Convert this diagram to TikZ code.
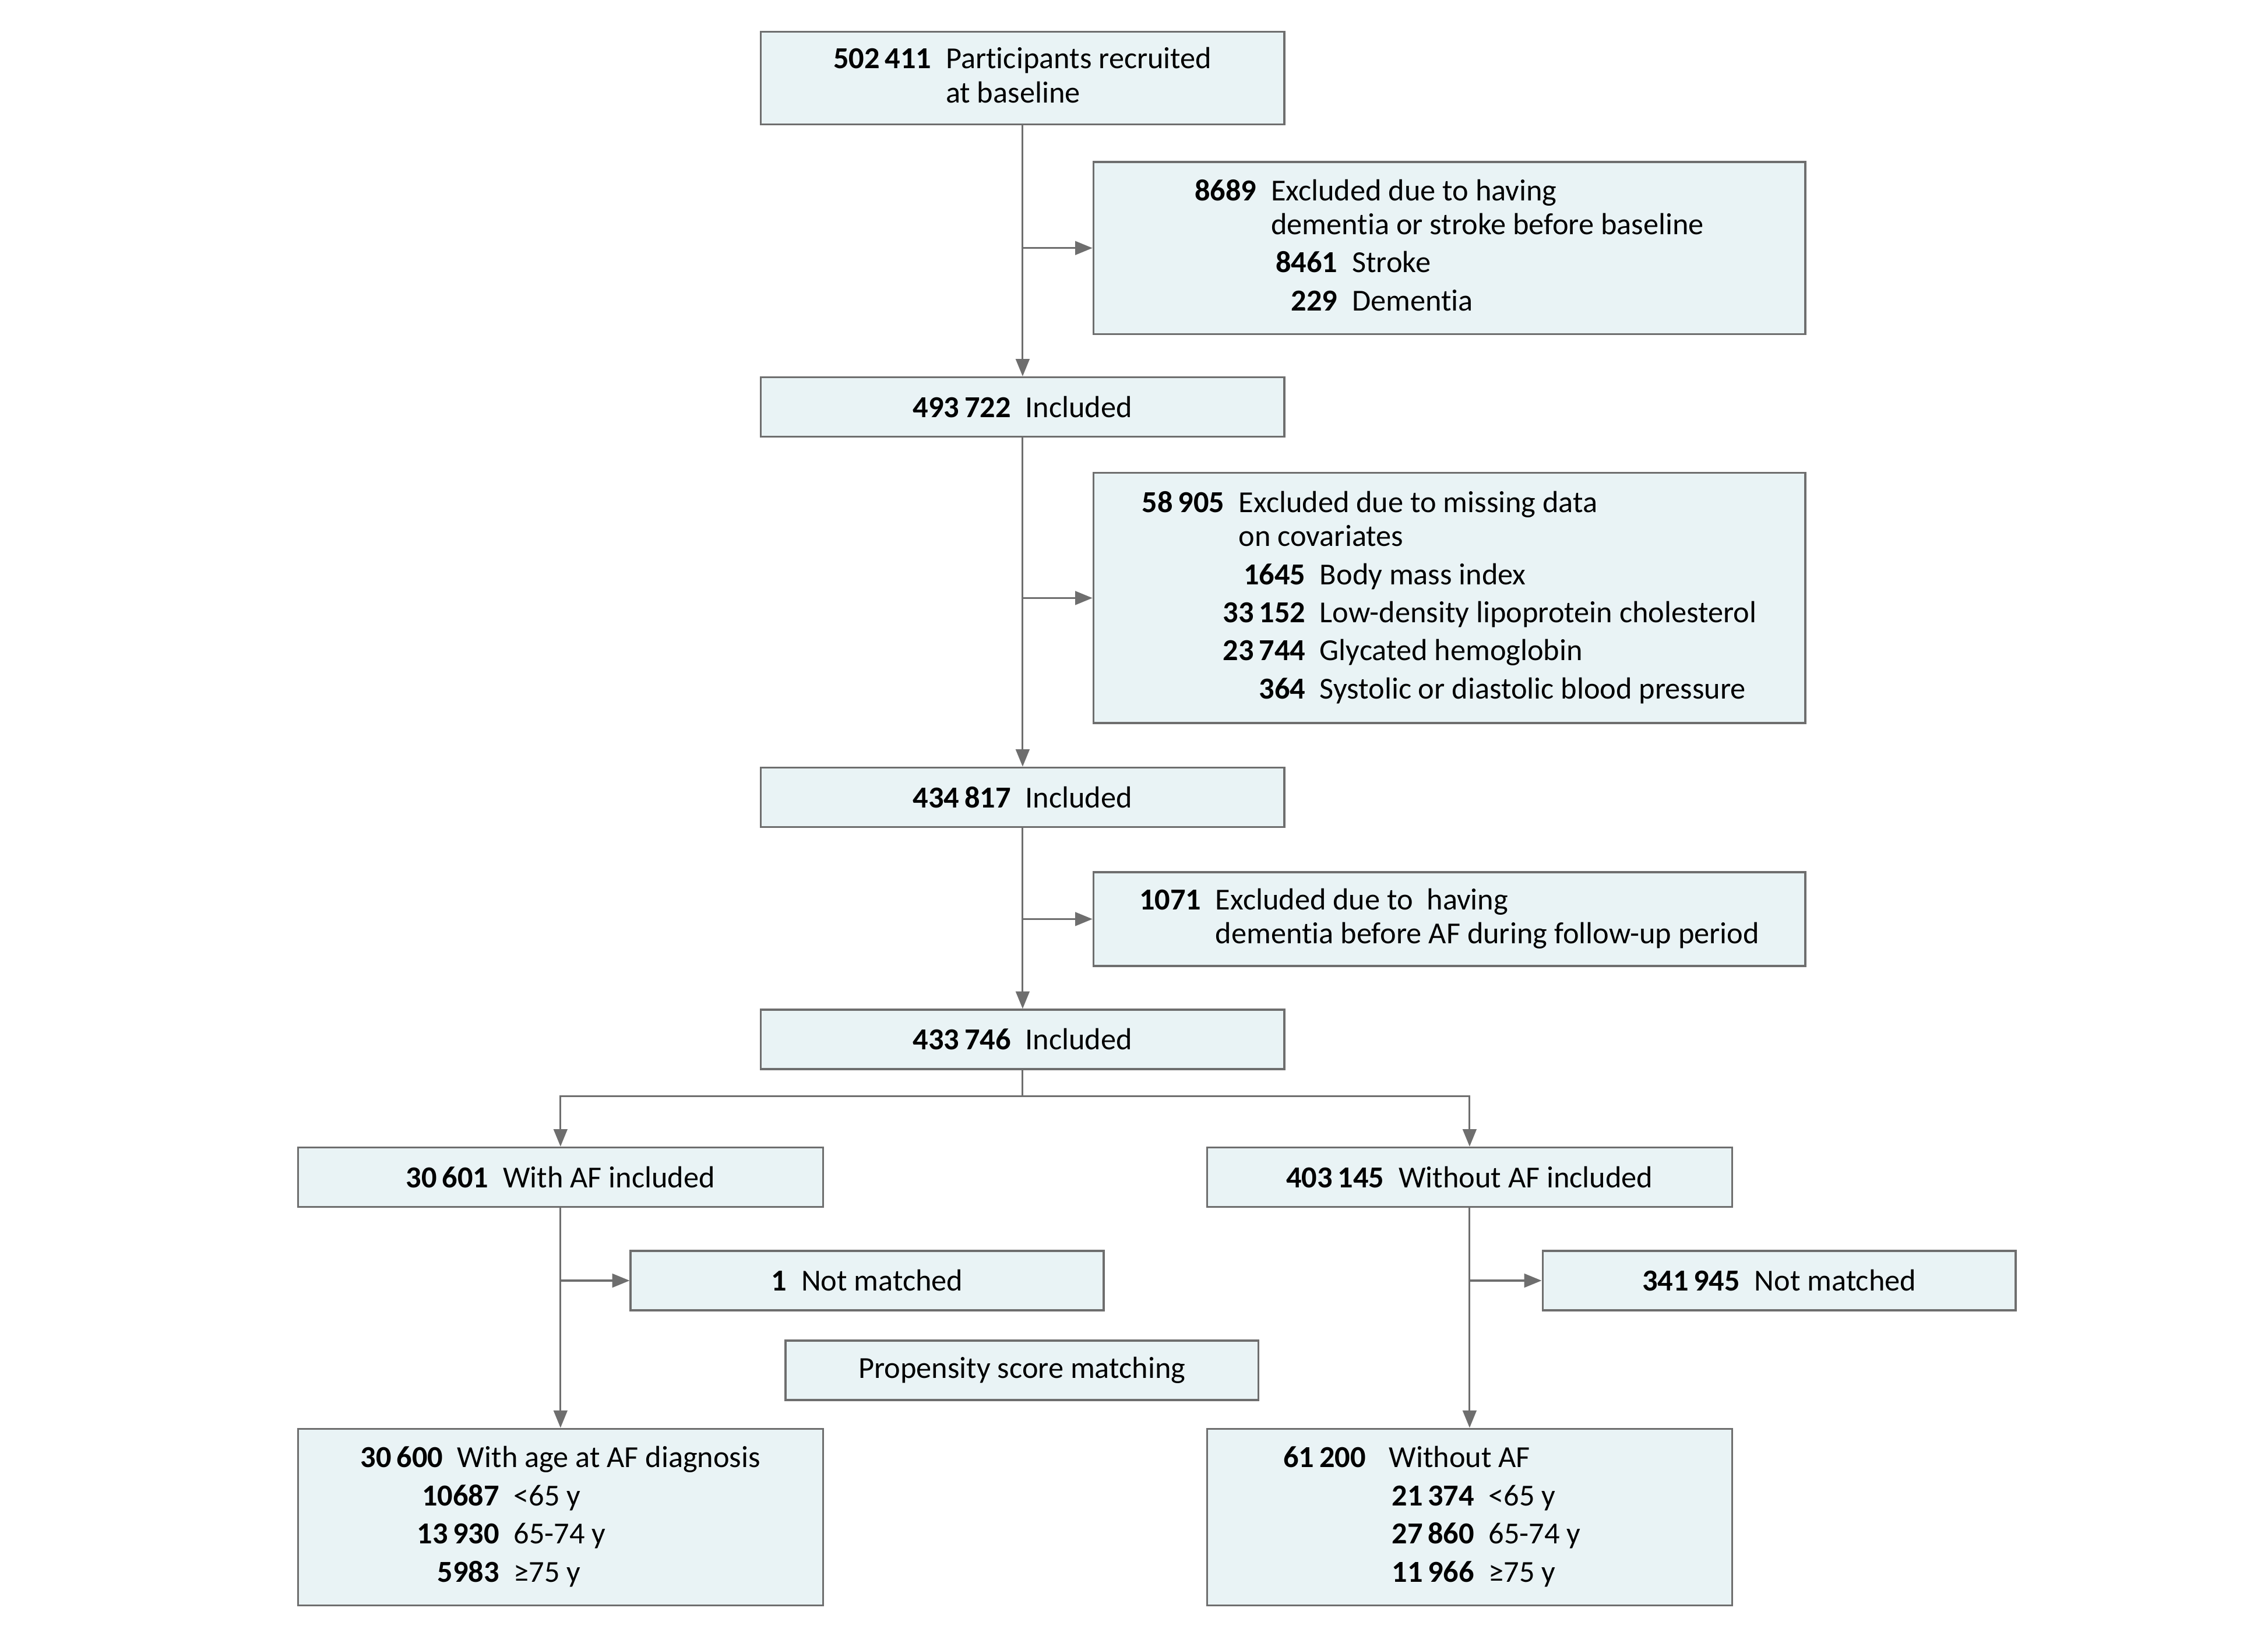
\documentclass[tikz,border=0pt]{standalone}
\usepackage{fontspec}
\setmainfont[Ligatures={NoCommon}]{Carlito}
\usetikzlibrary{arrows.meta,positioning}
\definecolor{boxfill}{HTML}{E9F3F5}
\definecolor{linegray}{HTML}{6E6E6E}

\begin{document}
\begin{tikzpicture}[
    node distance=3.5cm,
    box/.style={
        rectangle, draw=linegray, line width=0.8pt, fill=boxfill,
        inner sep=0pt, minimum width=7.24cm, minimum height=0.82cm,
        font=\fontsize{12}{15}\selectfont
    },
    widebox/.style={box, minimum width=9.84cm},
    smallbox/.style={box, minimum width=6.54cm},
    arrow/.style={-{Triangle[length=0.24cm,width=0.19cm]},
                  draw=linegray, line width=0.7pt}
]
\useasboundingbox (0,0) rectangle (31.36,-22.62);

% main column
\node[box, minimum height=1.28cm] (start) at (14.14,-1.08)
    {\begin{tabular}{@{}r@{\hspace{0.2cm}}l@{}}
     \textbf{502\,411} & Participants recruited\\[-1.6pt]
                       & at baseline
     \end{tabular}};
\node[box, below=3.47cm of start]  (incl1) {\textbf{493\,722}\hspace{0.2cm}Included};
\node[box, below=4.55cm of incl1] (incl2) {\textbf{434\,817}\hspace{0.2cm}Included};
\node[box, below=2.5cm of incl2]  (incl3) {\textbf{433\,746}\hspace{0.2cm}Included};

% exclusions
\node[widebox, minimum height=2.38cm] (excl1) at (20.04,-3.43)
    {\begin{tabular}{@{}r@{\hspace{0.2cm}}l@{}}
     \textbf{8689} & Excluded due to having\\[-1.7pt]
                   & dementia or stroke before baseline\\
                   & \hspace*{1.12cm}\llap{\textbf{8461}\hspace{0.2cm}}Stroke\\
                   & \hspace*{1.12cm}\llap{\textbf{229}\hspace{0.2cm}}Dementia
     \end{tabular}};
\node[widebox, minimum height=3.46cm] (excl2) at (20.04,-8.27)
    {\begin{tabular}{@{}r@{\hspace{0.2cm}}l@{}}
     \textbf{58\,905} & Excluded due to missing data\\[-1.7pt]
                      & on covariates\\
                      & \hspace*{1.12cm}\llap{\textbf{1645}\hspace{0.2cm}}Body mass index\\
                      & \hspace*{1.12cm}\llap{\textbf{33\,152}\hspace{0.2cm}}Low-density lipoprotein cholesterol\\
                      & \hspace*{1.12cm}\llap{\textbf{23\,744}\hspace{0.2cm}}Glycated hemoglobin\\
                      & \hspace*{1.12cm}\llap{\textbf{364}\hspace{0.2cm}}Systolic or diastolic blood pressure
     \end{tabular}};
\node[widebox, minimum height=1.30cm] (excl3) at (20.04,-12.71)
    {\begin{tabular}{@{}r@{\hspace{0.2cm}}l@{}}
     \textbf{1071} & Excluded due to \ having\\[-1.7pt]
                   & dementia before AF during follow-up period
     \end{tabular}};

% split by AF
\node[box, minimum width=7.26cm] (withaf)    at (7.75,-16.28)  {\textbf{30\,601}\hspace{0.2cm}With AF included};
\node[box, minimum width=7.26cm] (withoutaf) at (20.32,-16.28) {\textbf{403\,145}\hspace{0.2cm}Without AF included};
\node[smallbox] (unm1) at (11.99,-17.71) {\textbf{1}\hspace{0.2cm}Not matched};
\node[smallbox] (unm2) at (24.60,-17.71) {\textbf{341\,945}\hspace{0.2cm}Not matched};
\node[smallbox] (psm)  at (14.13,-18.95) {Propensity score matching};

\node[box, minimum width=7.26cm, minimum height=2.44cm] (afgrp) at (7.75,-20.98)
    {\begin{tabular}{@{}r@{\hspace{0.2cm}}l@{}}
     \textbf{30\,600} & With age at AF diagnosis\\
                      & \hspace*{0.78cm}\llap{\textbf{10687}\hspace{0.2cm}}<65 y\\
                      & \hspace*{0.78cm}\llap{\textbf{13\,930}\hspace{0.2cm}}65-74 y\\
                      & \hspace*{0.78cm}\llap{\textbf{5983}\hspace{0.2cm}}≥75 y
     \end{tabular}};
\node[box, minimum width=7.26cm, minimum height=2.44cm] (ctrlgrp) at (20.32,-20.98)
    {\begin{tabular}{@{}r@{\hspace{0.32cm}}l@{\hspace{1.04cm}}}
     \textbf{61\,200} & Without AF\\
                      & \hspace*{1.38cm}\llap{\textbf{21\,374}\hspace{0.2cm}}<65 y\\
                      & \hspace*{1.38cm}\llap{\textbf{27\,860}\hspace{0.2cm}}65-74 y\\
                      & \hspace*{1.38cm}\llap{\textbf{11\,966}\hspace{0.2cm}}≥75 y
     \end{tabular}};

\draw[arrow] (start) -- (incl1);
\draw[arrow] (incl1) -- (incl2);
\draw[arrow] (incl2) -- (incl3);
\draw[arrow] (start.south |- excl1.west) -- (excl1);
\draw[arrow] (incl1.south |- excl2.west) -- (excl2);
\draw[arrow] (incl2.south |- excl3.west) -- (excl3);

\draw[arrow] (incl3.south) -- ++(0,-0.36) -| (withaf.north);
\draw[arrow] (incl3.south) -- ++(0,-0.36) -| (withoutaf.north);

\draw[arrow] (withaf)    -- (afgrp);
\draw[arrow] (withoutaf) -- (ctrlgrp);
\draw[arrow] (withaf.south |- unm1.west)    -- (unm1);
\draw[arrow] (withoutaf.south |- unm2.west) -- (unm2);
\end{tikzpicture}
\end{document}
